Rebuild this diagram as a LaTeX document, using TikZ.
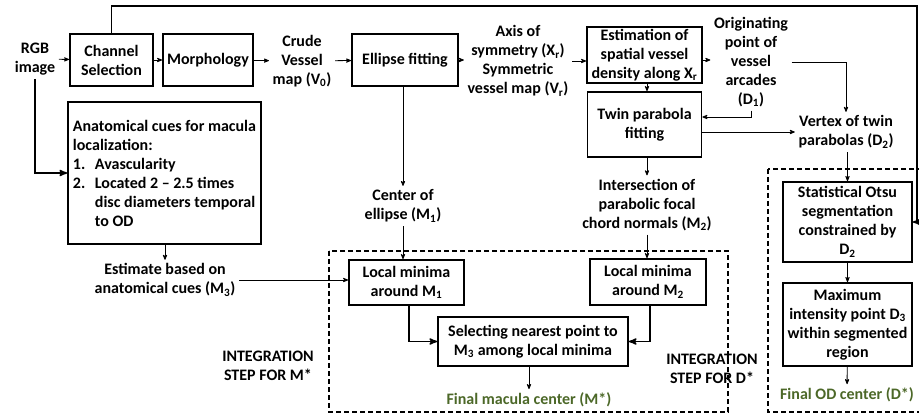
\documentclass[tikz,border=0pt]{standalone}
\usepackage{fontspec}
\setmainfont{Carlito}
\usepackage{tikz}
\usetikzlibrary{arrows}
\definecolor{resgreen}{RGB}{76,104,40}

\begin{document}
\begin{tikzpicture}[->,>=stealth',x=1pt,y=-1pt,line width=0.8pt,
		every node/.style={font=\fontsize{16}{19}\selectfont\bfseries,align=center}]
		\tikzstyle{blk}=[draw,line width=1.8pt,inner sep=2pt]
		\tikzstyle{thk}=[line width=1.6pt]
		\tikzstyle{grp}=[-,draw,line width=1.6pt,dash pattern=on 5pt off 3pt]
		\tikzstyle{fin}=[text=resgreen]
		
		\useasboundingbox (0,0) rectangle (919,414);
		
		% top row
		\node (rgb) at (35,59) {RGB\\image};
		\node[blk,minimum width=83pt,minimum height=52pt] (chan) at (111.5,60) {Channel\\Selection};
		\node[blk,minimum width=90pt,minimum height=52pt] (morph) at (208,60) {Morphology};
		\node (crude) at (302,61) {Crude\\Vessel\\map (V\textsubscript{0})};
		\node[blk,minimum width=106pt,minimum height=52pt] (ellip) at (405,60) {Ellipse fitting};
		\node (axis) at (518,61) {Axis of\\symmetry (X\textsubscript{r})\\Symmetric\\vessel map (V\textsubscript{r})};
		\node[blk,minimum width=115pt,minimum height=54pt] (estim) at (644.5,55) {Estimation of\\spatial vessel\\density along X\textsubscript{r}};
		\node (orig) at (751,62) {Originating\\point of\\vessel\\arcades\\(D\textsubscript{1})};
		\node[blk,minimum width=114pt,minimum height=65pt] (twin) at (644.5,124.5) {\raisebox{-3pt}{\parbox{110pt}{\centering Twin parabola\\fitting}}};
		\node (vert) at (846,132) {Vertex of twin\\parabolas (D\textsubscript{2})};
		
		% macula side
		\node[blk,align=left,minimum width=193pt,minimum height=142pt] (anat) at (164.5,173)
		{Anatomical cues for macula\\localization:\\
			\makebox[22pt][l]{1.}Avascularity\\
			\makebox[22pt][l]{2.}Located 2 -- 2.5 times\\
			\hspace*{22pt}disc diameters temporal\\
			\hspace*{22pt}to OD};
		\node (ctr) at (403,206) {Center of\\ellipse (M\textsubscript{1})};
		\node (est) at (165,280) {Estimate based on\\anatomical cues (M\textsubscript{3})};
		\node (inter) at (647,205) {Intersection of\\parabolic focal\\chord normals (M\textsubscript{2})};
		\node[blk,minimum width=115pt,minimum height=45pt] (lmA) at (406.5,282.5) {Local minima\\around M\textsubscript{1}};
		\node[blk,minimum width=116pt,minimum height=46pt] (lmB) at (648,282) {Local minima\\around M\textsubscript{2}};
		\node[blk,minimum width=190pt,minimum height=49pt] (sel) at (533,341.5) {Selecting nearest point to\\M\textsubscript{3} among local minima};
		\node[fin] (finM) at (529,400) {Final macula center (M*)};
		\node (intM) at (268,366) {INTEGRATION\\STEP FOR M*};
		\node (intD) at (712,369) {INTEGRATION\\STEP FOR D*};
		
		% optic disc side
		\node[blk,minimum width=129pt,minimum height=80pt] (otsu) at (847.5,222) {Statistical Otsu\\segmentation\\constrained by\\D\textsubscript{2}};
		\node[blk,minimum width=129pt,minimum height=83pt] (maxi) at (847.5,324.5) {Maximum\\intensity point D\textsubscript{3}\\within segmented\\region};
		\node[fin] (finD) at (847,395) {Final OD center (D*)};
		
		\draw[grp] (329,251) rectangle (728,412);
		\draw[grp] (768,169) rectangle (930,412);
		
		\coordinate (topR) at (917,6);
		
		\path (rgb) edge (chan)
		(chan) edge (morph)
		(morph) edge (crude)
		(crude) edge (ellip)
		(ellip.east) edge (ellip.east -| axis.west)
		(axis.east) edge (axis.east -| estim.west)
		([yshift=-5pt]estim.east) edge ([yshift=-5pt]estim.east -| orig.west)
		(otsu) edge (maxi)
		(maxi) edge (finD);
		
		\draw[thk] (chan.north) |- (topR) |- (otsu.east);
		\draw[thk] (rgb.south) |- (anat.west);
		\draw (ellip.south -| ctr) -- (ctr);
		\draw (ctr) -- (ctr |- lmA.north);
		\draw (anat.south -| est) -- (est);
		\draw (est.east) -- (est.east -| lmA.west);
		\draw[thk] ([xshift=2.5pt]lmA.south) |- (sel.west);
		\draw[thk] ([xshift=2pt]lmB.south) |- (sel.east);
		\draw (sel.south -| finM) -- (finM);
		\draw ([xshift=2.5pt]estim.south) -- ([xshift=2.5pt]estim.south |- twin.north);
		\draw (orig.south) |- ([yshift=7.5pt]twin.east);
		\draw (orig.east) -| (vert.north);
		\draw (twin.east |- vert) -- (vert);
		\draw (vert.south -| otsu.north) -- (otsu.north);
		\draw (twin.south -| inter) -- (inter);
		\draw (inter) -- (inter |- lmB.north);
\end{tikzpicture}
\end{document}
